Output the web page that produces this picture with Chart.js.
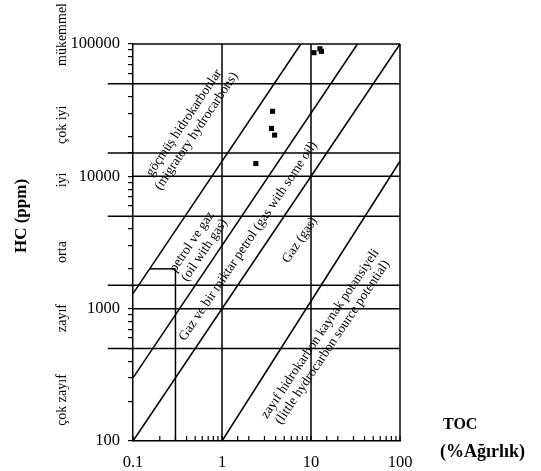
<!DOCTYPE html>
<html>
<head>
<meta charset="utf-8">
<script src="https://cdn.jsdelivr.net/npm/chart.js@4.4.1/dist/chart.umd.min.js"></script>
<style>
  html, body { margin: 0; padding: 0; background: #fff; }
</style>
</head>
<body>
<canvas id="chart" width="541" height="471"></canvas>
<script>
  const INK = '#000';
  const SERIF = '"Liberation Serif", "DejaVu Serif", serif';

  // samples (TOC %, HC ppm)
  const sampleToc = [2.4, 3.7, 3.6, 3.9, 10.8, 12.6, 13.1];
  const sampleHc = [12500, 31000, 23000, 20500, 86000, 92000, 88000];

  // potential class boundaries, ppm
  const classBounds = [500, 1500, 5000, 15000, 50000];
  const decadeLines = [1000, 10000];
  const classNames = ['mükemmel', 'çok iyi', 'iyi', 'orta', 'zayıf', 'çok zayıf'];
  const classLabelHc = [118000, 24500, 9400, 2680, 850, 204];

  // diagonal field boundaries, endpoints [toc], [hc]
  const diagA_toc = [0.1, 100];   const diagA_hc = [100, 100000];
  const diagB_toc = [0.1, 33.3];  const diagB_hc = [300, 100000];
  const diagC_toc = [0.1, 7.7];   const diagC_hc = [1300, 100000];
  const diagD_toc = [1, 100];     const diagD_hc = [100, 13000];

  // vertical TOC limits
  const fullVerticals = [1, 10];
  const shortVert_toc = [0.3, 0.3];  const shortVert_hc = [100, 2000];
  const shortHoriz_toc = [0.154, 0.3]; const shortHoriz_hc = [2000, 2000];

  // field labels: text lines, anchor toc, anchor hc
  const fieldText = [
    ['göçmüş hidrokarbonlar', '(migratory hydrocarbons)'],
    ['petrol ve gaz', '(oil with gas)'],
    ['Gaz ve bir miktar petrol (gas with some oil)'],
    ['Gaz (gas)'],
    ['zayıf hidrokarbon kaynak potansiyeli', '(little hydrocarbon source potential)']
  ];
  const fieldToc = [0.44, 0.54, 1.97, 7.5, 14.9];
  const fieldHc = [23600, 2980, 3240, 3300, 600];

  const xLeftExt = 0.052; // boundary lines run a bit left of the axis

  function seg(xs, ys) {
    return {
      type: 'line',
      data: xs.map((v, i) => ({ x: v, y: ys[i] })),
      borderColor: INK,
      borderWidth: 1.5,
      pointRadius: 0,
      fill: false,
      tension: 0,
      clip: false
    };
  }

  const datasets = [];
  classBounds.forEach(h => datasets.push(seg([xLeftExt, 100], [h, h])));
  decadeLines.forEach(h => datasets.push(seg([0.1, 100], [h, h])));
  datasets.push(seg([0.1, 100], [100000, 100000]));   // frame top
  datasets.push(seg([100, 100], [100, 100000]));      // frame right
  fullVerticals.forEach(t => datasets.push(seg([t, t], [100, 100000])));
  datasets.push(seg(shortVert_toc, shortVert_hc));
  datasets.push(seg(shortHoriz_toc, shortHoriz_hc));
  datasets.push(seg(diagA_toc, diagA_hc));
  datasets.push(seg(diagB_toc, diagB_hc));
  datasets.push(seg(diagC_toc, diagC_hc));
  datasets.push(seg(diagD_toc, diagD_hc));
  datasets.push({
    type: 'scatter',
    data: sampleToc.map((t, i) => ({ x: t, y: sampleHc[i] })),
    pointStyle: 'rect',
    pointRadius: 3.6,
    backgroundColor: INK,
    borderColor: INK,
    borderWidth: 0
  });

  function isDecade(v) {
    const l = Math.log10(v);
    return Math.abs(l - Math.round(l)) < 1e-6;
  }
  function decadeLabel(v) {
    return isDecade(v) ? String(Number(v.toPrecision(1))) : '';
  }

  const annotate = {
    id: 'annotate',
    afterDraw(chart) {
      const { ctx, chartArea } = chart;
      const x = chart.scales.x, y = chart.scales.y;
      ctx.save();

      // inward minor ticks on the TOC axis
      ctx.strokeStyle = INK;
      ctx.lineWidth = 1.2;
      x.ticks.forEach(t => {
        const px = x.getPixelForValue(t.value);
        ctx.beginPath();
        ctx.moveTo(px, chartArea.bottom);
        ctx.lineTo(px, chartArea.bottom - 5);
        ctx.stroke();
      });

      ctx.fillStyle = INK;
      ctx.textAlign = 'center';
      ctx.textBaseline = 'middle';

      // class names on the left
      ctx.font = '14px ' + SERIF;
      classNames.forEach((name, i) => {
        ctx.save();
        ctx.translate(62, y.getPixelForValue(classLabelHc[i]));
        ctx.rotate(-Math.PI / 2);
        ctx.fillText(name, 0, 0);
        ctx.restore();
      });

      // y title
      ctx.font = 'bold 17px ' + SERIF;
      ctx.save();
      ctx.translate(22, 216);
      ctx.rotate(-Math.PI / 2);
      ctx.fillText('HC (ppm)', 0, 0);
      ctx.restore();

      // x title
      ctx.textAlign = 'left';
      ctx.font = 'bold 16px ' + SERIF;
      ctx.fillText('TOC', 443, 425);
      ctx.font = 'bold 18px ' + SERIF;
      ctx.fillText('(%Ağırlık)', 440, 452);

      // field labels along the diagonals
      const ang = Math.atan2(y.getPixelForValue(1000) - y.getPixelForValue(100),
                             x.getPixelForValue(1) - x.getPixelForValue(0.1));
      ctx.textAlign = 'center';
      ctx.font = '13.5px ' + SERIF;
      fieldText.forEach((lines, i) => {
        ctx.save();
        ctx.translate(x.getPixelForValue(fieldToc[i]), y.getPixelForValue(fieldHc[i]));
        ctx.rotate(ang);
        lines.forEach((ln, j) => {
          ctx.fillText(ln, 0, (j - (lines.length - 1) / 2) * 15);
        });
        ctx.restore();
      });

      ctx.restore();
    }
  };

  new Chart(document.getElementById('chart'), {
    data: { datasets },
    options: {
      responsive: false,
      animation: false,
      devicePixelRatio: 1,
      layout: { padding: { left: 0, right: 141, top: 44, bottom: 0 } },
      plugins: { legend: { display: false }, tooltip: { enabled: false } },
      scales: {
        x: {
          type: 'logarithmic',
          position: 'bottom',
          min: 0.1,
          max: 100,
          grid: { display: false },
          border: { display: true, color: INK, width: 1.5 },
          ticks: {
            autoSkip: false,
            maxRotation: 0,
            padding: 4,
            color: INK,
            font: { family: SERIF, size: 16.5 },
            callback: decadeLabel
          },
          afterFit: s => { s.height = 30; }
        },
        y: {
          type: 'logarithmic',
          position: 'left',
          min: 100,
          max: 100000,
          grid: { drawOnChartArea: false, drawTicks: true, tickLength: 5, color: INK, lineWidth: 1.2 },
          border: { display: true, color: INK, width: 1.5 },
          ticks: {
            autoSkip: false,
            padding: 8,
            color: INK,
            font: { family: SERIF, size: 16.5 },
            callback: decadeLabel
          },
          afterFit: s => { s.width = 133; }
        }
      }
    },
    plugins: [annotate]
  });
</script>
</body>
</html>
